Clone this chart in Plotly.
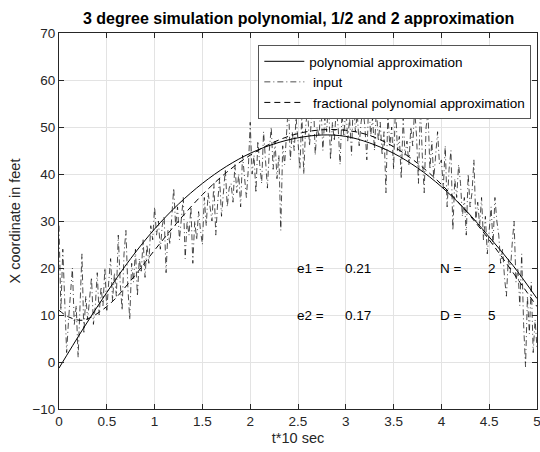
import plotly.graph_objects as go

# time axis (t*10 sec)
t_fit = [0.0, 0.25, 0.5, 0.75, 1.0, 1.25, 1.5, 1.75, 2.0, 2.25, 2.5,
         2.75, 3.0, 3.25, 3.5, 3.75, 4.0, 4.25, 4.5, 4.75, 5.0]

# 3 degree polynomial approximation
poly_fit = [-1.3, 7.0, 14.8, 22.0, 28.3, 33.6, 38.0, 41.6, 44.4, 46.4, 47.7,
            48.3, 48.0, 46.6, 44.4, 41.3, 37.3, 32.4, 26.6, 20.5, 13.5]

# fractional polynomial approximation
t_frac = [0.0, 0.1, 0.25, 0.5, 0.75, 1.0, 1.25, 1.5, 1.75, 2.0, 2.25, 2.5,
          2.75, 3.0, 3.25, 3.5, 3.75, 4.0, 4.25, 4.5, 4.75, 5.0]
frac_fit = [11.0, 9.6, 8.9, 11.8, 17.3, 23.8, 30.0, 35.6, 40.3, 44.0, 46.8, 48.6,
            49.4, 49.3, 48.2, 45.8, 42.3, 37.8, 32.3, 26.0, 19.0, 11.8]

# noisy input, sampled every 0.02
t_input = [i * 0.02 for i in range(251)]
x_input = [
    29, 11, 24, 13, 2, 9, 15, 20, 8, 12,
    1, 12, 23, 6, 14, 9, 13, 18, 8, 12,
    19, 10, 16, 12, 20, 11, 17, 22, 13, 19,
    14, 27, 17, 11, 23, 28, 16, 9, 21, 17,
    24, 14, 22, 19, 26, 18, 25, 21, 29, 26,
    33, 27, 30, 24, 29, 31, 19, 28, 25, 32,
    37, 29, 33, 26, 31, 35, 22, 30, 27, 33,
    21, 30, 26, 32, 28, 25, 35, 29, 36, 33,
    30, 38, 27, 34, 39, 31, 36, 41, 33, 37,
    38, 34, 42, 36, 40, 33, 44, 39, 35, 41,
    51, 40, 44, 36, 47, 42, 38, 49, 43, 37,
    45, 50, 41, 47, 39, 44, 28, 46, 42, 48,
    55, 43, 49, 45, 52, 47, 41, 53, 40, 50,
    54, 46, 51, 57, 44, 50, 48, 55, 45, 52,
    49, 56, 43, 51, 47, 54, 50, 42, 53, 48,
    55, 47, 52, 44, 57, 49, 53, 46, 51, 54,
    50, 43, 56, 48, 52, 45, 54, 47, 51, 44,
    49, 36, 53, 46, 50, 41, 55, 45, 48, 39,
    52, 44, 47, 42, 50, 46, 54, 48, 38, 55,
    44, 36, 50, 53, 41, 47, 39, 45, 49, 42,
    43, 37, 46, 33, 41, 45, 28, 39, 35, 42,
    38, 31, 35, 27, 40, 33, 36, 43, 30, 34,
    29, 35, 26, 31, 23, 28, 33, 25, 35, 30,
    27, 21, 24, 18, 14, 22, 19, 25, 30, 17,
    20, 12, 23, 8, -1, 14, 6, 17, 2, 9,
    3,
]

x_ticks = [0, 0.5, 1, 1.5, 2, 2.5, 3, 3.5, 4, 4.5, 5]
y_ticks = [-10, 0, 10, 20, 30, 40, 50, 60, 70]

FONT = "Liberation Sans, Arial, Helvetica, sans-serif"
AXIS_COLOR = "#262626"

fig = go.Figure()

fig.add_trace(go.Scatter(
    x=t_fit, y=poly_fit, mode="lines", name="polynomial approximation",
    line=dict(color="black", width=1, shape="spline"),
))
fig.add_trace(go.Scatter(
    x=t_input, y=x_input, mode="lines", name=" input",
    line=dict(color="black", width=0.7, dash="6px,3px,1px,3px"),
))
fig.add_trace(go.Scatter(
    x=t_frac, y=frac_fit, mode="lines", name=" fractional polynomial approximation",
    line=dict(color="black", width=1, dash="6px,4px", shape="spline"),
))

# error / parameter labels
labels = [
    (2.5, 20, "e1 ="), (3.0, 20, "0.21"), (4.0, 20, "N ="), (4.5, 20, "2"),
    (2.5, 10, "e2 ="), (3.0, 10, "0.17"), (4.0, 10, "D ="), (4.5, 10, "5"),
]
for lx, ly, txt in labels:
    fig.add_annotation(x=lx, y=ly, text=txt, showarrow=False, xanchor="left",
                       yanchor="middle", xshift=-3,
                       font=dict(family=FONT, size=13.5, color="black"))

axis_common = dict(
    showline=True, linecolor=AXIS_COLOR, linewidth=1, mirror="ticks",
    ticks="inside", ticklen=5, tickcolor=AXIS_COLOR, automargin=False,
    showgrid=True, gridcolor="#e3e3e3", gridwidth=1, zeroline=False,
    ticklabeloverflow="allow",
    tickfont=dict(family=FONT, size=13.5, color=AXIS_COLOR),
)

fig.update_xaxes(range=[0, 5], tickvals=x_ticks, ticktext=[f"{v:g}" for v in x_ticks],
                 title=dict(text="t*10 sec", font=dict(family=FONT, size=14.5, color=AXIS_COLOR),
                            standoff=4),
                 **axis_common)
fig.update_yaxes(range=[-10, 70], tickvals=y_ticks,
                 title=dict(text="X coordinate in feet", font=dict(family=FONT, size=14.5, color=AXIS_COLOR),
                            standoff=8),
                 **axis_common)

fig.update_layout(
    width=540, height=452,
    margin=dict(l=59, r=3, t=33, b=43),
    paper_bgcolor="white", plot_bgcolor="white",
    title=dict(text="<b>3 degree simulation polynomial, 1/2 and 2 approximation</b>",
               x=0.553, xanchor="center", y=0.96, yanchor="middle",
               font=dict(family=FONT, size=16, color="black")),
    legend=dict(x=0.417, y=0.968, xanchor="left", yanchor="top",
                bgcolor="white", bordercolor="#555555", borderwidth=1,
                font=dict(family=FONT, size=13.5, color="black"),
                tracegroupgap=0, itemwidth=40),
    showlegend=True,
)

# drop the default page margin so the 540x452 figure fills the window exactly
fig.write_html("out.html",
               config={"displayModeBar": False},
               post_script="document.body.style.margin='0';"
                           "document.documentElement.style.overflow='hidden';")
